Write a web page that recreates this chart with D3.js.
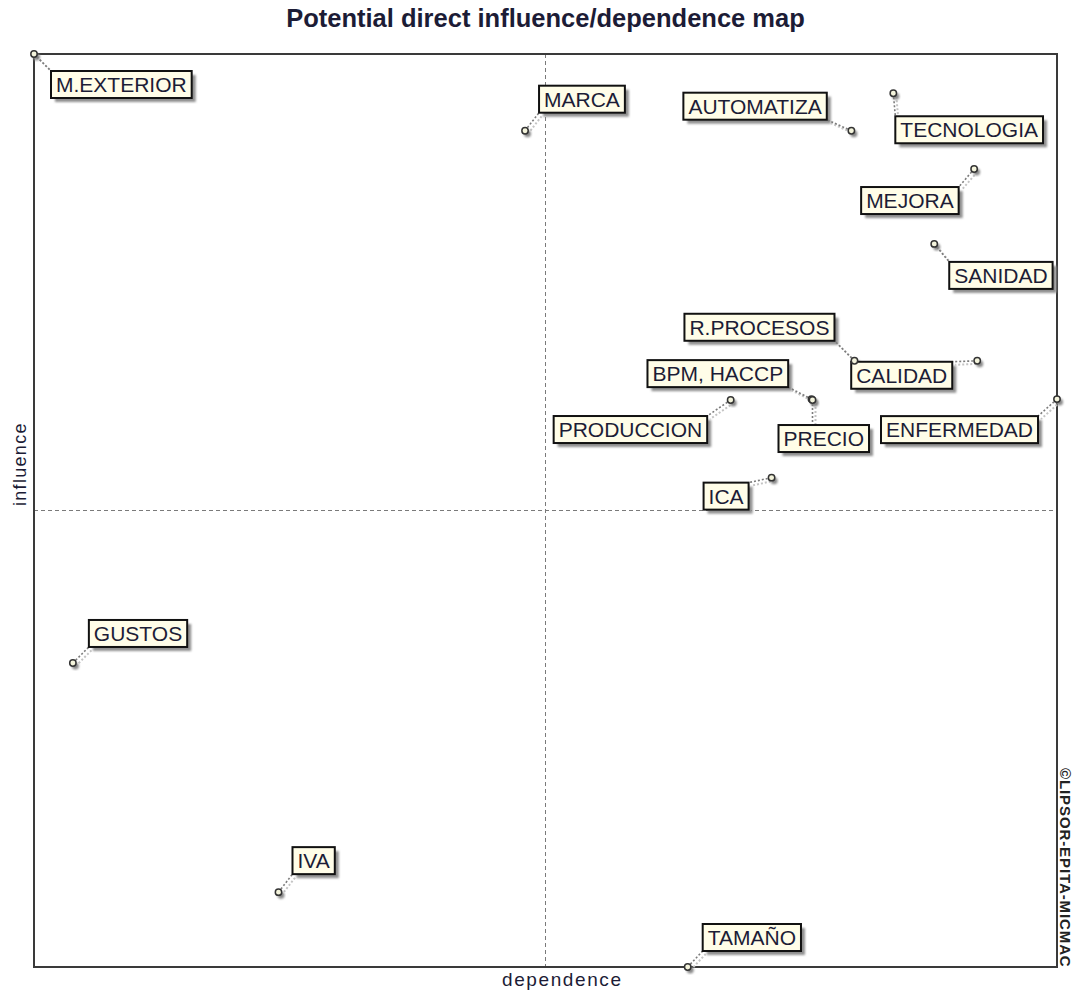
<!DOCTYPE html>
<html>
<head>
<meta charset="utf-8">
<script src="https://cdn.jsdelivr.net/npm/d3@7"></script>
<style>
  body { margin: 0; background: #fff; }
  svg { display: block; }
</style>
</head>
<body>
<div id="chart"></div>
<script>
// variables of the MICMAC direct map
const variables = ["M.EXTERIOR", "MARCA", "AUTOMATIZA", "TECNOLOGIA", "MEJORA", "SANIDAD",
  "R.PROCESOS", "CALIDAD", "BPM, HACCP", "PRODUCCION", "PRECIO", "ENFERMEDAD",
  "ICA", "GUSTOS", "IVA", "TAMAÑO"];
// dependence (x) and influence (y), in % of the axis range
const dependence = [0, 48.0, 79.9, 84.0, 91.9, 88.0, 80.2, 92.2, 76.0, 68.1, 76.1, 100, 72.1, 3.8, 23.9, 63.9];
const influence = [100, 91.6, 91.6, 95.7, 87.4, 79.2, 66.4, 66.4, 62.2, 62.1, 62.1, 62.2, 53.6, 33.3, 8.2, 0];

const titleText = "Potential direct influence/dependence map";
const xTitle = "dependence";
const yTitle = "influence";
const credit = "©LIPSOR-EPITA-MICMAC";

// where each label box sits relative to its point (top-left corner offset)
const labelDx = [17, 14, -168, 2, -113, 15, -170, -126, -164, -177, -34, -176, -68, 16, 14, 15];
const labelDy = [17, -45, -38, 23, 18, 18, -47, 1, -39, 16, 25, 17, 5, -43, -45, -43];

const width = 1074, height = 994;
const margin = {top: 54, right: 17, bottom: 27, left: 34};
const font = "'Liberation Sans', Arial, sans-serif";
const ink = "#1c1c36";

const svg = d3.select("#chart").append("svg")
  .attr("width", width)
  .attr("height", height);

const defs = svg.append("defs");
defs.append("filter").attr("id", "blur")
  .attr("x", "-20%").attr("y", "-20%").attr("width", "140%").attr("height", "140%")
  .append("feGaussianBlur").attr("stdDeviation", 1.2);

const x = d3.scaleLinear().domain([0, 100]).range([margin.left, width - margin.right]);
const y = d3.scaleLinear().domain([0, 100]).range([height - margin.bottom, margin.top]);

// title
svg.append("text")
  .attr("x", x(50)).attr("y", 27)
  .attr("text-anchor", "middle")
  .style("font-family", font).style("font-weight", "bold").style("font-size", "25.5px")
  .attr("fill", ink)
  .text(titleText);

// quadrant lines at the middle of both axes
svg.append("line")
  .attr("x1", x(50)).attr("x2", x(50)).attr("y1", y(100)).attr("y2", y(0))
  .attr("stroke", "#7a7a7a").attr("stroke-dasharray", "4,3");
svg.append("line")
  .attr("x1", x(0)).attr("x2", x(100)).attr("y1", y(50)).attr("y2", y(50))
  .attr("stroke", "#7a7a7a").attr("stroke-dasharray", "4,3");

// frame
svg.append("rect")
  .attr("x", x(0)).attr("y", y(100))
  .attr("width", x(100) - x(0)).attr("height", y(0) - y(100))
  .attr("fill", "none").attr("stroke", "#3a3a3a").attr("stroke-width", 2);

// axis titles
svg.append("text")
  .attr("x", 502).attr("y", 986)
  .style("font-family", font).style("font-size", "19px").style("letter-spacing", "1.6px")
  .attr("fill", ink)
  .text(xTitle);

svg.append("text")
  .attr("transform", "translate(26,506) rotate(-90)")
  .style("font-family", font).style("font-size", "18px").style("letter-spacing", "1.3px")
  .attr("fill", ink)
  .text(yTitle);

svg.append("text")
  .attr("transform", "translate(1060,768) rotate(90)")
  .style("font-family", font).style("font-size", "15px").style("letter-spacing", "0.9px")
  .style("font-weight", "bold")
  .attr("fill", "#222")
  .text(credit);

// build label geometry
const data = variables.map((name, i) => ({
  name,
  px: x(dependence[i]),
  py: y(influence[i]),
  dx: labelDx[i],
  dy: labelDy[i]
}));

const layer = svg.append("g");
const shadowLayer = layer.append("g");
const lineLayer = layer.append("g");
const boxLayer = layer.append("g");
const pointLayer = layer.append("g");

const boxes = boxLayer.selectAll("g")
  .data(data)
  .enter()
  .append("g");

boxes.append("text")
  .style("font-family", font).style("font-size", "21px")
  .attr("fill", ink)
  .text(d => d.name)
  .each(function(d) {
    d.w = this.getComputedTextLength() + 10;
    d.h = 27;
    d.bx = d.px + d.dx;
    d.by = d.py + d.dy;
    // nearest point of the box to the marker
    d.cx = Math.max(d.bx, Math.min(d.px, d.bx + d.w));
    d.cy = Math.max(d.by, Math.min(d.py, d.by + d.h));
  })
  .attr("x", d => d.bx + 5)
  .attr("y", d => d.by + 21);

boxes.insert("rect", "text")
  .attr("x", d => d.bx).attr("y", d => d.by)
  .attr("width", d => d.w).attr("height", d => d.h)
  .attr("fill", "#fffde8")
  .attr("stroke", "#111").attr("stroke-width", 2);

// shadows
shadowLayer.selectAll("rect")
  .data(data)
  .enter()
  .append("rect")
  .attr("x", d => d.bx + 4).attr("y", d => d.by + 4)
  .attr("width", d => d.w).attr("height", d => d.h)
  .attr("fill", "#8f8f8f")
  .attr("filter", "url(#blur)");

shadowLayer.selectAll("line")
  .data(data)
  .enter()
  .append("line")
  .attr("x1", d => d.px + 3).attr("y1", d => d.py + 3)
  .attr("x2", d => d.cx + 3).attr("y2", d => d.cy + 3)
  .attr("stroke", "#c4c4c4").attr("stroke-width", 2)
  .attr("stroke-dasharray", "2,2");

shadowLayer.selectAll("circle")
  .data(data)
  .enter()
  .append("circle")
  .attr("cx", d => d.px + 2.5).attr("cy", d => d.py + 3)
  .attr("r", 3.5)
  .attr("fill", "#8a8a8a")
  .attr("filter", "url(#blur)");

// connectors
lineLayer.selectAll("line")
  .data(data)
  .enter()
  .append("line")
  .attr("x1", d => d.px).attr("y1", d => d.py)
  .attr("x2", d => d.cx).attr("y2", d => d.cy)
  .attr("stroke", "#7c7c7c").attr("stroke-width", 1.6)
  .attr("stroke-dasharray", "2,2");

// points
pointLayer.selectAll("circle")
  .data(data)
  .enter()
  .append("circle")
  .attr("cx", d => d.px).attr("cy", d => d.py)
  .attr("r", 3.2)
  .attr("fill", "#f4f4dc")
  .attr("stroke", "#333").attr("stroke-width", 1.5);
</script>
</body>
</html>
